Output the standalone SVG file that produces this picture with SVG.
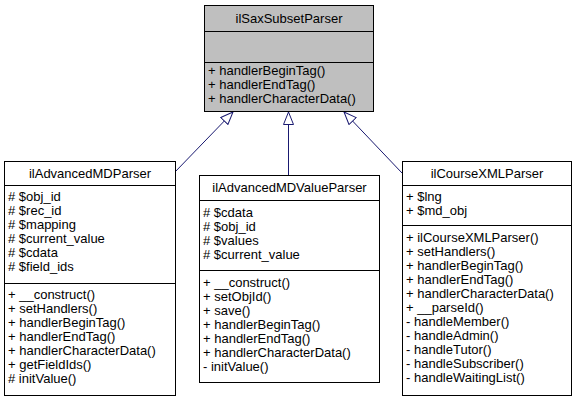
<svg xmlns="http://www.w3.org/2000/svg" width="577" height="404" viewBox="0 0 577 404">
<style>
text{font-family:"Liberation Sans",Arial,Helvetica,sans-serif;font-size:13px;fill:#000}
.t{text-anchor:middle}
.box{fill:#fff;stroke:#000;stroke-width:1}
.base{fill:#bfbfbf;stroke:#000;stroke-width:1}
.div{stroke:#000;stroke-width:1}
.edge{stroke:#191970;stroke-width:1;fill:none}
</style>
<defs>
<marker id="tri" viewBox="0 0 14 11" refX="13" refY="5.5" markerWidth="14" markerHeight="11" markerUnits="userSpaceOnUse" orient="auto">
<path d="M0.5,0.5 L13,5.5 L0.5,10.5 Z" fill="#fff" stroke="#191970" stroke-width="1"/>
</marker>
</defs>
<rect width="577" height="404" fill="#fff"/>
<g id="connectors">
<path class="edge" d="M175,172 L233,112" marker-end="url(#tri)"/>
<path class="edge" d="M288.5,175 L288.5,112" marker-end="url(#tri)"/>
<path class="edge" d="M402,173 L344,112" marker-end="url(#tri)"/>
</g>
<g id="ilSaxSubsetParser">
<rect class="base" x="204.5" y="5.5" width="169" height="106"/>
<line class="div" x1="204.5" y1="31.5" x2="373.5" y2="31.5"/>
<line class="div" x1="204.5" y1="62.5" x2="373.5" y2="62.5"/>
<text class="t" x="289" y="23">ilSaxSubsetParser</text>
<text x="208" y="75">+ handlerBeginTag()</text>
<text x="208" y="89">+ handlerEndTag()</text>
<text x="208" y="103">+ handlerCharacterData()</text>
</g>
<g id="ilAdvancedMDParser">
<rect class="box" x="4.5" y="161.5" width="171" height="234"/>
<line class="div" x1="4.5" y1="185.5" x2="175.5" y2="185.5"/>
<line class="div" x1="4.5" y1="283.5" x2="175.5" y2="283.5"/>
<text class="t" x="90" y="178">ilAdvancedMDParser</text>
<text x="8" y="201"># $obj_id</text>
<text x="8" y="215"># $rec_id</text>
<text x="8" y="229"># $mapping</text>
<text x="8" y="243"># $current_value</text>
<text x="8" y="257"># $cdata</text>
<text x="8" y="271"># $field_ids</text>
<text x="8" y="299">+ __construct()</text>
<text x="8" y="313">+ setHandlers()</text>
<text x="8" y="327">+ handlerBeginTag()</text>
<text x="8" y="341">+ handlerEndTag()</text>
<text x="8" y="355">+ handlerCharacterData()</text>
<text x="8" y="369">+ getFieldIds()</text>
<text x="8" y="383"># initValue()</text>
</g>
<g id="ilAdvancedMDValueParser">
<rect class="box" x="199.5" y="175.5" width="180" height="207"/>
<line class="div" x1="199.5" y1="200.5" x2="379.5" y2="200.5"/>
<line class="div" x1="199.5" y1="270.5" x2="379.5" y2="270.5"/>
<text class="t" x="289.5" y="192">ilAdvancedMDValueParser</text>
<text x="203" y="217"># $cdata</text>
<text x="203" y="231"># $obj_id</text>
<text x="203" y="245"># $values</text>
<text x="203" y="259"># $current_value</text>
<text x="203" y="287">+ __construct()</text>
<text x="203" y="301">+ setObjId()</text>
<text x="203" y="315">+ save()</text>
<text x="203" y="329">+ handlerBeginTag()</text>
<text x="203" y="343">+ handlerEndTag()</text>
<text x="203" y="357">+ handlerCharacterData()</text>
<text x="203" y="371">- initValue()</text>
</g>
<g id="ilCourseXMLParser">
<rect class="box" x="402.5" y="161.5" width="169" height="234"/>
<line class="div" x1="402.5" y1="185.5" x2="571.5" y2="185.5"/>
<line class="div" x1="402.5" y1="225.5" x2="571.5" y2="225.5"/>
<text class="t" x="487" y="178">ilCourseXMLParser</text>
<text x="406" y="201">+ $lng</text>
<text x="406" y="215">+ $md_obj</text>
<text x="406" y="242">+ ilCourseXMLParser()</text>
<text x="406" y="256">+ setHandlers()</text>
<text x="406" y="270">+ handlerBeginTag()</text>
<text x="406" y="284">+ handlerEndTag()</text>
<text x="406" y="298">+ handlerCharacterData()</text>
<text x="406" y="312">+ __parseId()</text>
<text x="406" y="326">- handleMember()</text>
<text x="406" y="340">- handleAdmin()</text>
<text x="406" y="354">- handleTutor()</text>
<text x="406" y="368">- handleSubscriber()</text>
<text x="406" y="382">- handleWaitingList()</text>
</g>
</svg>
